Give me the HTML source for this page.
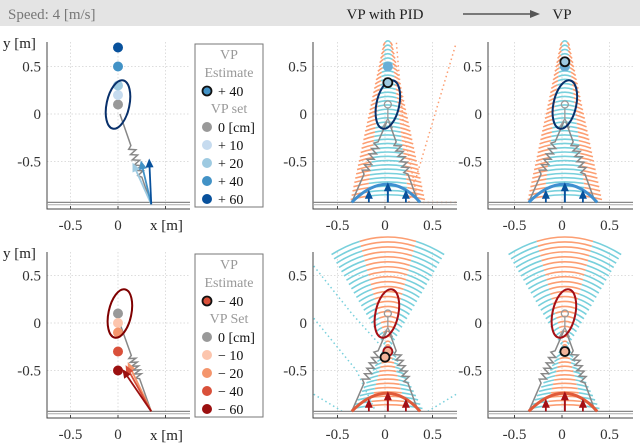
<!DOCTYPE html>
<html><head><meta charset="utf-8">
<style>
body{margin:0;background:#fff;}
svg{display:block;font-family:"Liberation Serif",serif;}
</style></head><body>
<svg id="fig" width="640" height="446" viewBox="0 0 640 446" xmlns="http://www.w3.org/2000/svg">
<rect x="0" y="0" width="640" height="26" fill="#e4e4e4"/>
<text x="8" y="19" font-size="15" fill="#777">Speed: 4 [m/s]</text>
<text x="385" y="19" font-size="15" text-anchor="middle" fill="#222">VP with PID</text>
<line x1="463" y1="14" x2="532" y2="14" stroke="#555" stroke-width="1.5"/>
<polygon points="540,14 530,10 530,18" fill="#555"/>
<text x="562" y="19" font-size="15" text-anchor="middle" fill="#222">VP</text>
<g id="root"></g>
</svg>
<script>
// ---- data ----
const vpSetTopCm = [0, 10, 20, 40, 60];
const vpSetBotCm = [0, -10, -20, -40, -60];
const blueColors = ["#999999", "#c6dbef", "#9ecae1", "#4292c6", "#08519c"];
const redColors = ["#999999", "#fcc5ad", "#f4956c", "#d9503a", "#9b1010"];
const xTicks = [-0.5, 0, 0.5];
const yTicks = [-0.5, 0, 0.5];
const topEst = [[0.03, 0.33], [0.03, 0.55]];
const topSet = [[0.03, 0.5], [0.03, 0.5]];
const botEst = [[0.0, -0.36], [0.03, -0.3]];
const botSet = [[0.03, -0.3], [0.03, -0.3]];

const NS = "http://www.w3.org/2000/svg";
const root = document.getElementById("root");
function mk(tag, attrs, parent) {
  const e = document.createElementNS(NS, tag);
  for (const k in attrs) e.setAttribute(k, attrs[k]);
  (parent || root).appendChild(e);
  return e;
}
const S = 95;
function panel(x0, y0, left, right, top, bottom, name, skipLast) {
  const g = mk("g", {});
  
  
  const X = v => x0 + v * S, Y = v => y0 - v * S;
  xTicks.forEach(t => { const l = mk("line", {x1: X(t), x2: X(t), y1: top, y2: bottom, stroke: "#ddd", "stroke-dasharray": "1.5,2"}, g);   });
  yTicks.forEach(t => { const l = mk("line", {x1: left, x2: right, y1: Y(t), y2: Y(t), stroke: "#ddd", "stroke-dasharray": "1.5,2"}, g);   });
  const ax = mk("path", {d: `M${left},${top}V${bottom}H${right}`, stroke: "#444", fill: "none", "stroke-width": 1}, g);
  
  
  xTicks.forEach((t, i) => {
    mk("line", {x1: X(t), x2: X(t), y1: bottom, y2: bottom - 3, stroke: "#444"}, g);
    if (skipLast && i === xTicks.length - 1) return;
    const l = mk("text", {x: X(t), y: bottom + 21, "font-size": 15, "text-anchor": "middle", fill: "#333"}, g);
    l.textContent = t === 0 ? "0" : String(t);
     
  });
  yTicks.forEach(t => { const l = mk("text", {x: left - 6, y: Y(t) + 5, "font-size": 15, "text-anchor": "end", fill: "#333"}, g); l.textContent = t === 0 ? "0" : String(t);   });
  return {g, X, Y, left, right, top, bottom};
}
function ground(p) {
  mk("line", {x1: p.left, x2: p.right, y1: p.Y(-0.93), y2: p.Y(-0.93), stroke: "#888", "stroke-width": 1.2}, p.g);
  mk("line", {x1: p.left, x2: p.right, y1: p.Y(-0.955), y2: p.Y(-0.955), stroke: "#aaa", "stroke-width": 1}, p.g);
}
function zig(p, ax, ay, bx, by, n, amp, t0, t1) {
  let d = `M${p.X(ax)},${p.Y(ay)}`;
  const dx = -(by - ay), dy = bx - ax, L = Math.hypot(dx, dy);
  for (let i = 0; i <= n; i++) {
    const t = t0 + (t1 - t0) * i / n, s = i % 2 ? 1 : -1;
    const a = (i === 0 || i === n) ? 0 : amp;
    const x = ax + (bx - ax) * t, y = ay + (by - ay) * t;
    d += ` L${p.X(x + s * a * dx / L)},${p.Y(y + s * a * dy / L)}`;
  }
  d += ` L${p.X(bx)},${p.Y(by)}`;
  const e = mk("path", {d, stroke: "#888", fill: "none", "stroke-width": 1.5}, p.g);
  
  
}
function person(p) {
  mk("circle", {cx: p.X(0.03), cy: p.Y(0.1), r: 3.5, fill: "none", stroke: "#999", "stroke-width": 1.3}, p.g);
  mk("path", {d: `M${p.X(0.03)},${p.Y(0.07)}V${p.Y(-0.05)}M${p.X(-0.03)},${p.Y(-0.15)}L${p.X(0.03)},${p.Y(-0.05)}L${p.X(0.08)},${p.Y(-0.15)}`, stroke: "#999", fill: "none", "stroke-width": 1.3}, p.g);
}
function ellipse(p, cx, cy, col) {
  const e = mk("ellipse", {cx: p.X(cx), cy: p.Y(cy), rx: 0.12 * S, ry: 0.26 * S, fill: "none", stroke: col, "stroke-width": 2, transform: `rotate(12 ${p.X(cx)} ${p.Y(cy)})`}, p.g);
  
  
}
function dot(p, x, y, fill, stroke, name) {
  const e = mk("circle", {cx: p.X(x), cy: p.Y(y), r: 4.5, fill, stroke: stroke || fill, "stroke-width": stroke ? 1.8 : 1}, p.g);
  
  
}
function arrow(p, x1, y1, x2, y2, col, w) {
  mk("line", {x1: p.X(x1), y1: p.Y(y1), x2: p.X(x2), y2: p.Y(y2), stroke: col, "stroke-width": w || 2}, p.g);
  const a = Math.atan2(p.Y(y2) - p.Y(y1), p.X(x2) - p.X(x1));
  const tx = p.X(x2), ty = p.Y(y2);
  const pts = [[tx + 4 * Math.cos(a), ty + 4 * Math.sin(a)], [tx - 5 * Math.cos(a) + 4 * Math.sin(a), ty - 5 * Math.sin(a) - 4 * Math.cos(a)], [tx - 5 * Math.cos(a) - 4 * Math.sin(a), ty - 5 * Math.sin(a) + 4 * Math.cos(a)]];
  const e = mk("polygon", {points: pts.map(q => q.join(",")).join(" "), fill: col}, p.g);
  
  
}
function arcs(p, y, w, sag, segs) {
  segs.forEach(s => {
    const f = x => y + sag * (1 - (x / w) * (x / w));
    const xm = (s[0] + s[1]) / 2;
    const e = mk("path", {d: `M${p.X(0.03 + s[0])},${p.Y(f(s[0]))} Q${p.X(0.03 + xm)},${p.Y(2 * f(xm) - (f(s[0]) + f(s[1])) / 2)} ${p.X(0.03 + s[1])},${p.Y(f(s[1]))}`, stroke: s[2], fill: "none", "stroke-width": 1.6}, p.g);
    
    
  });
}
function fanTop(p) {
  for (let y = -0.9; y <= 0.76; y += 0.045) {
    const w = 0.36 * (0.78 - y) / 1.7 + 0.035;
    arcs(p, y, w, 0.05, [[-w, -w * 0.55, "#fc9e72"], [-w * 0.55, w * 0.55, "#78d0dc"], [w * 0.55, w, "#fc9e72"]]);
  }
}
function fanBot(p) {
  for (let y = -0.9; y <= 0.76; y += 0.045) {
    const below = y < -0.25;
    const w = below ? 0.35 * (-0.25 - y) / 0.68 + 0.03 : 0.58 * (y + 0.25) / 1.0 + 0.03;
    const sag = below ? 0.04 : 0.03 + 0.16 * (y + 0.25);
    arcs(p, y, w, sag, [[-w, -w * 0.5, "#78d0dc"], [-w * 0.5, w * 0.5, "#fc9e72"], [w * 0.5, w, "#78d0dc"]]);
  }
}
function robot(p, col, arcCol) {
  zig(p, -0.35, -0.93, 0.02, -0.08, 12, 0.035, 0.35, 0.75);
  zig(p, 0.35, -0.93, 0.04, -0.08, 12, 0.035, 0.35, 0.75);
  const e = mk("path", {d: `M${p.X(-0.35)},${p.Y(-0.93)} Q${p.X(0.03)},${p.Y(-0.55)} ${p.X(0.37)},${p.Y(-0.93)}`, stroke: arcCol, fill: "none", "stroke-width": 3}, p.g);
  
  
  arrow(p, -0.17, -0.93, -0.17, -0.84, col, 1.8);
  arrow(p, 0.03, -0.93, 0.03, -0.76, col, 2);
  arrow(p, 0.22, -0.93, 0.22, -0.84, col, 1.8);
  person(p);
}
function dotted(p, pts, col) {
  const e = mk("polyline", {points: pts.map(q => p.X(q[0]) + "," + p.Y(q[1])).join(" "), stroke: col, fill: "none", "stroke-width": 1.5, "stroke-dasharray": "1.5,3"}, p.g);
  
  
}
function legend(x, y, title2, estLabel, setCm, colors, estColor) {
  const g = mk("g", {});
  
  
  mk("rect", {x, y, width: 68, height: 163, fill: "#fff", stroke: "#777", "stroke-width": 1}, g);
  const t = (tx, ty, s, c, a) => { const e = mk("text", {x: tx, y: ty, "font-size": 14, fill: c, "text-anchor": a || "start"}, g); e.textContent = s; return e; };
  t(x + 34, y + 15, "VP", "#999", "middle");
  t(x + 34, y + 33, "Estimate", "#999", "middle");
  mk("circle", {cx: x + 12, cy: y + 47, r: 4.5, fill: estColor, stroke: "#111", "stroke-width": 1.8}, g);
  t(x + 23, y + 52, estLabel, "#111");
  t(x + 34, y + 69, title2, "#999", "middle");
  setCm.forEach((c, i) => {
    const cy = y + 83 + i * 18;
    const e = mk("circle", {cx: x + 12, cy, r: 4.5, fill: colors[i], stroke: colors[i]}, g);
    
    
    const s = c === 0 ? "0 [cm]" : (c > 0 ? "+ " + c : "\u2212 " + (-c));
    t(x + 23, cy + 5, s, "#111");
  });
}
function axisLabels(yTop, yBot) {
  let e = mk("text", {x: 3, y: yTop, "font-size": 15, fill: "#222"}); e.textContent = "y [m]";
   
  e = mk("text", {x: 150, y: yBot, "font-size": 15, fill: "#222"}); e.textContent = "x [m]";
   
}

// ---- top row ----
const A = panel(118, 114, 47, 190, 42, 209, "panel-top-left", true);
ground(A);
zig(A, 0.35, -0.95, 0.02, 0.0, 12, 0.035, 0.3, 0.65);
[0.22, 0.25, 0.28].forEach((x, i) => arrow(A, 0.35, -0.95, x + 0.05 * i - 0.05, -0.55 + 0.02 * i, blueColors[i + 2], 1.8));
vpSetTopCm.forEach((c, i) => dot(A, 0, 0.1 + c / 100, blueColors[i], null, "vp-set-point"));
ellipse(A, 0.0, 0.1, "#08306b");
legend(195, 44, "VP set", "+ 40", vpSetTopCm, blueColors, "#4292c6");
axisLabels(48, 230);

const B = panel(385, 114, 313, 457, 42, 209, "panel-top-middle");
fanTop(B);
dotted(B, [[0.25, -0.93], [0.75, 0.75]], "#fc9e72");
dotted(B, [[0.12, 0.75], [0.2, -0.2], [0.35, -0.93]], "#fc9e72");
dotted(B, [[0.4, -0.93], [0.75, -0.93]], "#fc9e72");
ground(B);
robot(B, "#08519c", "#3f8fd0");
ellipse(B, 0.03, 0.1, "#08306b");
dot(B, topSet[0][0], topSet[0][1], "#6aaed6", null, "vp-set-point");
dot(B, topEst[0][0], topEst[0][1], "#9ecae1", "#111", "vp-estimate-point");

const C = panel(562, 114, 488, 633, 42, 209, "panel-top-right");
fanTop(C);
ground(C);
robot(C, "#08519c", "#3f8fd0");
ellipse(C, 0.03, 0.1, "#08306b");
dot(C, topSet[1][0], topSet[1][1], "#6aaed6", null, "vp-set-point");
dot(C, topEst[1][0], topEst[1][1], "#9ecae1", "#111", "vp-estimate-point");

// ---- bottom row ----
const D = panel(118, 323, 47, 190, 252, 418, "panel-bottom-left", true);
ground(D);
zig(D, 0.35, -0.93, 0.0, 0.05, 12, 0.035, 0.35, 0.6);
[[0.12, -0.45], [0.1, -0.48], [0.07, -0.52]].forEach((q, i) => arrow(D, 0.35, -0.93, q[0], q[1], redColors[i + 2], 1.8));
vpSetBotCm.forEach((c, i) => dot(D, 0, 0.1 + c / 100, redColors[i], null, "vp-set-point"));
ellipse(D, 0.02, 0.1, "#7f0000");
legend(195, 254, "VP Set", "\u2212 40", vpSetBotCm, redColors, "#d9503a");
axisLabels(258, 440);

const E = panel(385, 323, 313, 457, 252, 418, "panel-bottom-middle");
fanBot(E);
dotted(E, [[-0.75, 0.6], [-0.35, 0.1], [0.1, -0.4]], "#78d0dc");
dotted(E, [[-0.75, 0.05], [-0.3, -0.5], [-0.1, -0.93]], "#78d0dc");
dotted(E, [[-0.75, -0.75], [-0.45, -0.93]], "#78d0dc");
dotted(E, [[0.45, -0.93], [0.75, -0.75]], "#78d0dc");
ground(E);
robot(E, "#a50f15", "#e05a3a");
ellipse(E, 0.02, 0.1, "#a50f15");
dot(E, botSet[0][0], botSet[0][1], "#f4b49a", "#a50f15", "vp-set-point");
dot(E, botEst[0][0], botEst[0][1], "#f4b49a", "#111", "vp-estimate-point");

const F = panel(562, 323, 488, 633, 252, 418, "panel-bottom-right");
fanBot(F);
ground(F);
robot(F, "#a50f15", "#e05a3a");
ellipse(F, 0.02, 0.1, "#a50f15");
dot(F, botEst[1][0], botEst[1][1], "#f4b49a", "#111", "vp-estimate-point");
</script>
</body></html>
